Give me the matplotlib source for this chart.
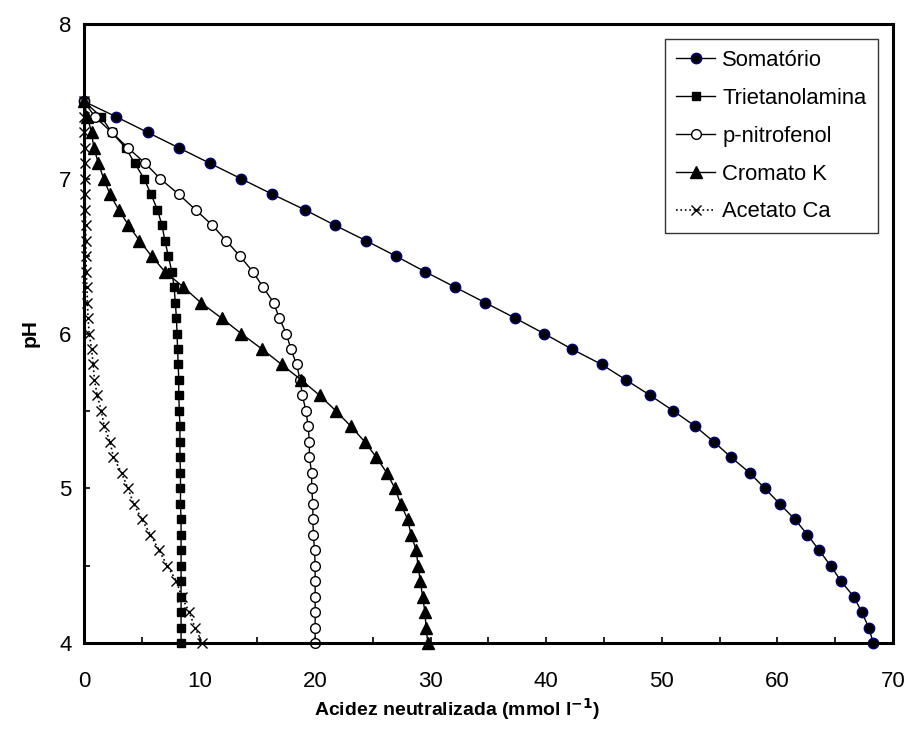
import numpy as np
import matplotlib.pyplot as plt
from matplotlib.ticker import MultipleLocator

plt.rcParams['font.family'] = ['Liberation Sans', 'DejaVu Sans']

# pH de 7,5 ate 4,0 em passos de 0,1
ph = [7.5, 7.4, 7.3, 7.2, 7.1, 7.0, 6.9, 6.8, 6.7, 6.6, 6.5, 6.4, 6.3, 6.2, 6.1, 6.0,
      5.9, 5.8, 5.7, 5.6, 5.5, 5.4, 5.3, 5.2, 5.1, 5.0, 4.9, 4.8, 4.7, 4.6, 4.5, 4.4,
      4.3, 4.2, 4.1, 4.0]

somatorio = [0, 2.8, 5.5, 8.2, 10.9, 13.6, 16.3, 19.1, 21.7, 24.4, 27.0, 29.5, 32.1,
             34.7, 37.3, 39.8, 42.2, 44.8, 46.9, 49.0, 51.0, 52.9, 54.5, 56.0, 57.6,
             58.9, 60.2, 61.5, 62.6, 63.6, 64.6, 65.5, 66.6, 67.3, 67.9, 68.3]
trietanolamina = [0, 1.5, 2.4, 3.6, 4.4, 5.2, 5.8, 6.35, 6.75, 7.0, 7.3, 7.6, 7.8, 7.9,
                  8.0, 8.05, 8.1, 8.15, 8.2, 8.2, 8.25, 8.3, 8.3, 8.3, 8.35, 8.35, 8.35,
                  8.4, 8.4, 8.4, 8.4, 8.4, 8.4, 8.4, 8.4, 8.4]
nitrofenol = [0, 0.95, 2.4, 3.8, 5.3, 6.6, 8.2, 9.65, 11.1, 12.3, 13.5, 14.6, 15.5, 16.4,
              16.9, 17.5, 17.9, 18.4, 18.7, 18.9, 19.2, 19.4, 19.5, 19.5, 19.7, 19.7,
              19.8, 19.8, 19.85, 19.95, 20.0, 20.0, 20.0, 20.0, 20.0, 20.0]
cromato = [0, 0.3, 0.65, 0.85, 1.25, 1.7, 2.25, 3.0, 3.85, 4.8, 5.85, 7.0, 8.6, 10.1,
           11.9, 13.6, 15.4, 17.1, 18.8, 20.4, 21.8, 23.1, 24.3, 25.3, 26.2, 26.9, 27.4,
           28.0, 28.3, 28.75, 28.9, 29.1, 29.3, 29.5, 29.6, 29.75]
acetato = [0, 0.02, 0.04, 0.06, 0.08, 0.1, 0.1, 0.12, 0.14, 0.16, 0.18, 0.2, 0.25, 0.3,
           0.35, 0.45, 0.65, 0.8, 0.9, 1.15, 1.5, 1.75, 2.25, 2.55, 3.25, 3.8, 4.3, 5.0,
           5.75, 6.5, 7.2, 8.0, 8.45, 9.1, 9.6, 10.25]

fig = plt.figure(figsize=(9.09, 7.46), dpi=100)
ax = fig.add_axes([0.0924, 0.138, 0.8900, 0.8298])

ax.plot(somatorio, ph, '-', color='black', lw=1, marker='o', ms=7.5,
        mfc='black', mec='#000080', mew=1, label='Somatório', clip_on=False)
ax.plot(trietanolamina, ph, '-', color='black', lw=1, marker='s', ms=6,
        mfc='black', mec='black', label='Trietanolamina', clip_on=False)
ax.plot(nitrofenol, ph, '-', color='black', lw=1, marker='o', ms=7,
        mfc='white', mec='black', mew=1, label='p-nitrofenol', clip_on=False)
ax.plot(cromato, ph, '-', color='black', lw=1, marker='^', ms=8,
        mfc='black', mec='black', label='Cromato K', clip_on=False)
ax.plot(acetato, ph, ':', color='black', lw=1.2, marker='x', ms=7,
        mew=1, label='Acetato Ca', clip_on=False)

ax.set_xlim(0, 70)
ax.set_ylim(4, 8)
ax.xaxis.set_major_locator(MultipleLocator(10))
ax.xaxis.set_minor_locator(MultipleLocator(5))
ax.yaxis.set_major_locator(MultipleLocator(1))
ax.yaxis.set_minor_locator(MultipleLocator(0.5))
ax.tick_params(which='both', direction='in', length=4, width=1.2, labelsize=16)
ax.tick_params(axis='x', which='both', pad=20)
ax.tick_params(axis='y', which='both', pad=9)

for s in ax.spines.values():
    s.set_linewidth(2.2)

ax.set_xlabel('Acidez neutralizada (mmol l$^{\\mathbf{-1}}$)', fontsize=14,
              fontweight='bold')
ax.xaxis.set_label_coords(0.461, -0.085)
ax.set_ylabel('pH', fontsize=15, fontweight='bold', labelpad=14)

leg = ax.legend(loc='upper right', bbox_to_anchor=(0.981, 0.976), borderaxespad=0,
                fontsize=15.8, frameon=True, fancybox=False, edgecolor='black',
                handlelength=1.75, handletextpad=0.35, labelspacing=0.77,
                borderpad=0.5)
leg.get_frame().set_linewidth(1)

fig.savefig('out.png', dpi=100)
